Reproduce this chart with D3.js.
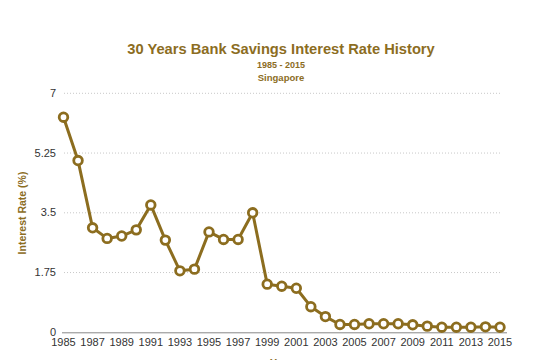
<!DOCTYPE html>
<html><head><meta charset="utf-8">
<script src="https://cdn.jsdelivr.net/npm/d3@7"></script>
<style>body{margin:0;background:#fff}svg{display:block}</style>
</head><body><svg id="c" width="537" height="360"></svg>
<script>
const years = d3.range(1985, 2016);
const rates = [6.3,5.03,3.06,2.75,2.82,3.0,3.73,2.7,1.8,1.85,2.94,2.72,2.72,3.5,1.41,1.35,1.29,0.75,0.46,0.23,0.23,0.25,0.25,0.25,0.22,0.18,0.15,0.15,0.15,0.16,0.15];
const yTicks = [0,1.75,3.5,5.25,7];
const xTicks = d3.range(1985, 2016, 2);
const gold = "#8c6d1f";
const svg = d3.select("#c");
const font = "Helvetica, 'Liberation Sans', Arial, sans-serif";
const x = d3.scaleLinear().domain([1985,2015]).range([63.5,500]);
const y = d3.scaleLinear().domain([0,7]).range([332.3,93.3]);

// gridlines
svg.append("g").selectAll("line").data(yTicks.filter(d=>d>0)).join("line")
  .attr("x1",64).attr("x2",500).attr("y1",d=>y(d)).attr("y2",d=>y(d))
  .attr("stroke","#c8c8c8").attr("stroke-width",1).attr("stroke-dasharray","1,2");
// axis line
svg.append("line").attr("x1",62).attr("x2",507).attr("y1",y(0)+0.5).attr("y2",y(0)+0.5)
  .attr("stroke","#888").attr("stroke-width",1);
// y tick labels
svg.append("g").selectAll("text").data(yTicks).join("text")
  .attr("x",56).attr("y",d=>y(d)+3.5).attr("text-anchor","end")
  .attr("font-family",font).attr("font-size",11).attr("fill","#333").text(d=>d);
// x tick labels
svg.append("g").selectAll("text").data(xTicks).join("text")
  .attr("x",d=>x(d)).attr("y",346).attr("text-anchor","middle")
  .attr("font-family",font).attr("font-size",11).attr("fill","#333").text(d=>d);
// line
const pts = years.map((yr,i)=>[yr,rates[i]]);
svg.append("path").datum(pts).attr("fill","none").attr("stroke",gold).attr("stroke-width",3)
  .attr("stroke-linejoin","round")
  .attr("d",d3.line().x(d=>x(d[0])).y(d=>y(d[1])));
svg.append("g").selectAll("circle").data(pts).join("circle")
  .attr("cx",d=>x(d[0])).attr("cy",d=>y(d[1])).attr("r",4.3)
  .attr("fill","#fff").attr("stroke",gold).attr("stroke-width",2.8);
// titles
svg.append("text").attr("x",281).attr("y",54).attr("text-anchor","middle")
  .attr("font-family",font).attr("font-weight","bold").attr("font-size",14.7).attr("fill",gold)
  .text("30 Years Bank Savings Interest Rate History");
svg.append("text").attr("x",281).attr("y",68).attr("text-anchor","middle")
  .attr("font-family",font).attr("font-weight","bold").attr("font-size",9).attr("fill",gold)
  .text("1985 - 2015");
svg.append("text").attr("x",281).attr("y",81).attr("text-anchor","middle")
  .attr("font-family",font).attr("font-weight","bold").attr("font-size",9.5).attr("fill",gold)
  .text("Singapore");
svg.append("text").attr("transform","translate(26,213) rotate(-90)").attr("text-anchor","middle")
  .attr("font-family",font).attr("font-weight","bold").attr("font-size",10.5).attr("fill",gold)
  .text("Interest Rate (%)");
svg.append("text").attr("x",281).attr("y",367).attr("text-anchor","middle")
  .attr("font-family",font).attr("font-weight","bold").attr("font-size",10.5).attr("fill",gold)
  .text("Year");
</script></body></html>
